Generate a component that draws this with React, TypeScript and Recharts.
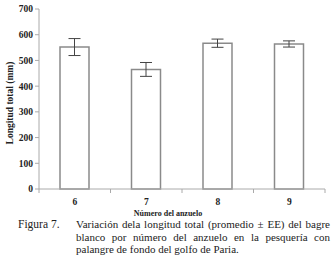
import { BarChart, Bar, XAxis, YAxis, ErrorBar } from 'recharts';

const categories = ['6', '7', '8', '9'];
const means = [552, 465, 567, 564];
const errors = [33, 27, 16, 12];
const yTicks = [0, 100, 200, 300, 400, 500, 600, 700];

const data = categories.map((c, i) => ({ name: c, value: means[i], err: errors[i] }));

const W = 336;
const LEFT = 39;
const RIGHT = 11;
const band = (W - LEFT - RIGHT) / categories.length;

const serif = '"Liberation Serif", "Times New Roman", serif';

function XTick(props: any) {
  const { x, y, payload, index } = props;
  return (
    <g>
      <line x1={x - band / 2} y1={y - 8} x2={x - band / 2} y2={y - 4} stroke="#aaa" />
      {index === categories.length - 1 && (
        <line x1={x + band / 2} y1={y - 8} x2={x + band / 2} y2={y - 4} stroke="#aaa" />
      )}
      <text x={x} y={y + 8} textAnchor="middle" fontFamily={serif} fontWeight="bold" fontSize={9.5} fill="#222">
        {payload.value}
      </text>
    </g>
  );
}

function YLabel(props: any) {
  const { viewBox } = props;
  const cx = 10;
  const cy = viewBox.y + viewBox.height / 2 + 4;
  return (
    <text
      x={cx}
      y={cy}
      transform={`rotate(-90 ${cx} ${cy})`}
      textAnchor="middle"
      dominantBaseline="central"
      fontFamily={serif}
      fontWeight="bold"
      fontSize={9.5}
      fill="#222"
    >
      Longitud total (mm)
    </text>
  );
}

export default function App() {
  return (
    <div style={{ position: 'absolute', left: 0, top: 0, width: W, height: 261, background: '#fff' }}>
      <BarChart width={W} height={222} data={data} margin={{ top: 9, right: RIGHT, bottom: 3, left: 0 }}>
        <XAxis
          dataKey="name"
          axisLine={{ stroke: '#aaa' }}
          tickLine={false}
          tick={<XTick />}
          height={30}
          label={{ value: 'Número del anzuelo', position: 'insideBottom', offset: 3, dx: -14, fontFamily: serif, fontWeight: 'bold', fontSize: 8, fill: '#222' }}
        />
        <YAxis
          domain={[0, 700]}
          ticks={yTicks}
          width={LEFT}
          axisLine={{ stroke: '#aaa' }}
          tickLine={{ stroke: '#aaa' }}
          tickSize={4}
          interval={0}
          tick={{ fontFamily: serif, fontWeight: 'bold', fontSize: 9.5, fill: '#222' }}
          label={<YLabel />}
        />
        <Bar dataKey="value" fill="#fff" stroke="#8a8a8a" strokeWidth={1.5} barSize={29} isAnimationActive={false}>
          <ErrorBar dataKey="err" width={6} stroke="#444" strokeWidth={1} />
        </Bar>
      </BarChart>
      <div style={{ position: 'absolute', top: 218, left: 18, width: 314, fontFamily: serif, fontSize: 11, lineHeight: '12.5px', color: '#222' }}>
        <div style={{ position: 'absolute', left: 0, top: 0, fontSize: 11.5 }}>Figura 7.</div>
        <div style={{ position: 'absolute', left: 58, top: 0, width: 254 }}>
          <div style={{ textAlign: 'justify', textAlignLast: 'justify', whiteSpace: 'nowrap' }}>
            Variación dela longitud total (promedio ± EE) del bagre
          </div>
          <div style={{ textAlign: 'justify', textAlignLast: 'justify', whiteSpace: 'nowrap' }}>
            blanco por número del anzuelo en la pesquería con
          </div>
          <div style={{ whiteSpace: 'nowrap' }}>palangre de fondo del golfo de Paria.</div>
        </div>
      </div>
    </div>
  );
}
